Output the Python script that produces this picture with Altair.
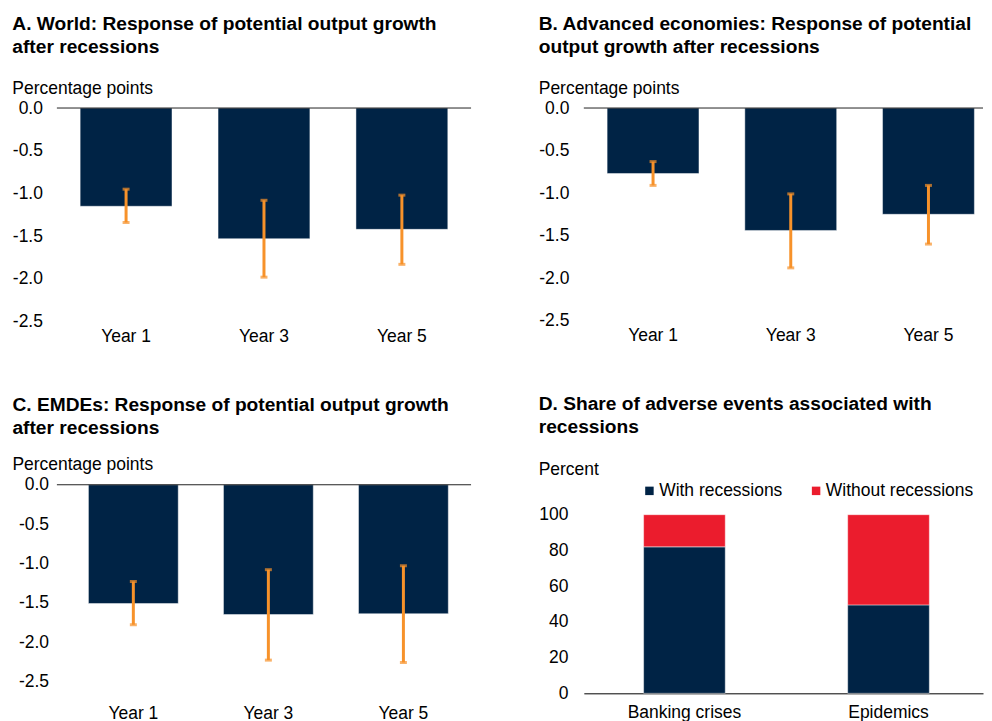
import altair as alt
import pandas as pd

NAVY = "#002345"
RED = "#EB1C2D"
ORANGE = "#F7922A"
FONT = "Liberation Sans"
FS = 17.5
TFS = 19.2

years = ["Year 1", "Year 3", "Year 5"]

a_val = [-1.15, -1.53, -1.42]
a_lo = [-1.34, -1.98, -1.83]
a_hi = [-0.95, -1.08, -1.02]

b_val = [-0.77, -1.44, -1.25]
b_lo = [-0.91, -1.88, -1.60]
b_hi = [-0.63, -1.01, -0.91]

c_val = [-1.51, -1.65, -1.64]
c_lo = [-1.78, -2.23, -2.26]
c_hi = [-1.23, -1.08, -1.03]

d_cats = ["Banking crises", "Epidemics"]
d_series = ["With recessions", "Without recessions"]
d_with = [82, 49.5]
d_without = [18, 50.5]

y_ticks = [0.0, -0.5, -1.0, -1.5, -2.0, -2.5]
d_ticks = [0, 20, 40, 60, 80, 100]


def make_title(lines, sub, sub_pad, offset, dx=0):
    return alt.Title(
        text=lines, subtitle=sub, anchor="start", frame="bounds",
        fontSize=TFS, fontWeight="bold", lineHeight=23, color="#000", font=FONT,
        subtitleFontSize=FS, subtitleFontWeight="normal", subtitleColor="#000",
        subtitleFont=FONT, subtitlePadding=sub_pad, offset=offset, dx=dx,
    )


def panel(lines, vals, lo, hi, width, height, pi, po, align, ypad, xpad,
          sub_pad, offset, dx=0):
    df = pd.DataFrame({"cat": years, "val": vals, "lo": lo, "hi": hi})
    xscale = alt.Scale(paddingInner=pi, paddingOuter=po, align=align)
    xaxis = alt.Axis(title=None, labelAngle=0, domain=False, ticks=False,
                     tickSize=0, labelPadding=xpad, labelFontSize=FS,
                     labelColor="#000", labelFont=FONT)
    x = alt.X("cat:N", sort=years, scale=xscale, axis=xaxis, title=None)
    yscale = alt.Scale(domain=[-2.5, 0], nice=False, zero=False)
    yaxis = alt.Axis(title=None, values=y_ticks, tickCount=6, domain=False,
                     ticks=False, tickSize=0, grid=False, labelPadding=ypad,
                     labelOverlap=False, labelFontSize=FS, labelColor="#000",
                     labelFont=FONT,
                     labelExpr="datum.value == 0 ? '0.0' : '-' + format(abs(datum.value), '.1f')")
    base = alt.Chart(df)
    bars = base.mark_bar(color=NAVY, stroke="white", strokeOpacity=0.45,
                         strokeWidth=1).encode(
        x=x, y=alt.Y("val:Q", scale=yscale, axis=yaxis, title=None))
    zero = alt.Chart(pd.DataFrame({"z": [0]})).mark_rule(
        color="#222", strokeWidth=1).encode(
        y=alt.Y("z:Q", scale=yscale, title=None))
    err = base.mark_rule(color=ORANGE, strokeWidth=3).encode(
        x=x, y=alt.Y("lo:Q", scale=yscale, title=None), y2="hi:Q")
    cap_lo = base.mark_tick(color=ORANGE, thickness=3, size=7).encode(
        x=x, y=alt.Y("lo:Q", scale=yscale, title=None))
    cap_hi = base.mark_tick(color=ORANGE, thickness=3, size=7).encode(
        x=x, y=alt.Y("hi:Q", scale=yscale, title=None))
    return alt.layer(bars, zero, err, cap_lo, cap_hi).properties(
        width=width, height=height,
        title=make_title(lines, "Percentage points", sub_pad, offset, dx))


A = panel(["A. World: Response of potential output growth", "after recessions"],
          a_val, a_lo, a_hi, 415, 214, 0.334, 0.1686, 0.5, 14.5, 5.5, 22.5, 2)
B = panel(["B. Advanced economies: Response of potential", "output growth after recessions"],
          b_val, b_lo, b_hi, 400, 213, 0.333, 0.1159, 0.73, 15, 5.5, 22.5, 2)
C = panel(["C. EMDEs: Response of potential output growth", "after recessions"],
          c_val, c_lo, c_hi, 415, 197, 0.335, 0.201, 0.581, 8.4, 23, 18.5, 2, dx=-6)

rows = []
for i, c in enumerate(d_cats):
    rows.append({"cat": c, "series": d_series[0], "val": d_with[i], "ord": 0})
    rows.append({"cat": c, "series": d_series[1], "val": d_without[i], "ord": 1})
ddf = pd.DataFrame(rows)

D = alt.Chart(ddf).mark_bar(stroke="white", strokeOpacity=0.45, strokeWidth=1).encode(
    x=alt.X("cat:N", sort=d_cats, title=None,
            scale=alt.Scale(paddingInner=0.6, paddingOuter=0.2780, align=0.527),
            axis=alt.Axis(title=None, labelAngle=0, domain=True, domainColor="#000",
                          domainWidth=1, ticks=False, tickSize=0, labelPadding=10,
                          labelFontSize=FS, labelColor="#000", labelFont=FONT)),
    y=alt.Y("val:Q", stack="zero", title=None,
            scale=alt.Scale(domain=[0, 100], nice=False),
            axis=alt.Axis(title=None, values=d_ticks, tickCount=6, domain=False,
                          ticks=False, tickSize=0, grid=False, labelPadding=16,
                          format="d", labelOverlap=False,
                          labelFontSize=FS, labelColor="#000", labelFont=FONT)),
    color=alt.Color("series:N",
                    scale=alt.Scale(domain=d_series, range=[NAVY, RED]),
                    legend=alt.Legend(title=None, orient="none", direction="horizontal",
                                      legendX=57, legendY=-33, columns=2,
                                      symbolType="square", symbolSize=72,
                                      symbolStrokeWidth=0, labelFontSize=FS,
                                      labelColor="#000", labelFont=FONT,
                                      labelOffset=1, columnPadding=24)),
    order=alt.Order("ord:Q"),
).properties(
    width=400, height=179,
    title=make_title(["D. Share of adverse events associated with", "recessions"],
                     "Percent", 23.5, 3.6))

chart = alt.concat(
    A, B, C, D, columns=2, spacing={"row": 50.5, "column": 66},
).properties(
    align="none", bounds="full",
    padding={"left": 4, "top": 5.5, "right": 0, "bottom": 0},
).resolve_scale(color="independent").resolve_legend(color="independent").configure(
    font=FONT).configure_view(stroke=None)

chart.save("out.html", embed_options={"renderer": "svg", "actions": False})
